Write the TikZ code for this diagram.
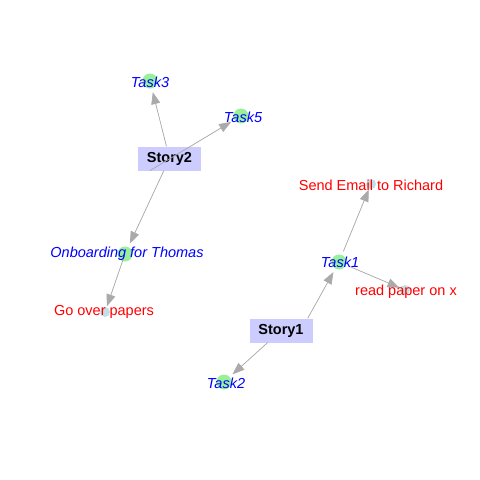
\documentclass[tikz,border=0pt]{standalone}
\usepackage{fontspec}
\setmainfont{Liberation Sans}
\usetikzlibrary{arrows.meta,positioning}

\definecolor{storyfill}{RGB}{204,204,255}
\definecolor{taskfill}{RGB}{152,240,152}
\definecolor{subfill}{RGB}{190,226,232}
\definecolor{edgegray}{RGB}{170,170,170}

\begin{document}
\begin{tikzpicture}[
  x=1pt, y=-1pt,
  font=\fontsize{14.5}{17}\selectfont,
  story/.style={rectangle, fill=storyfill, minimum width=63pt, minimum height=24pt, inner sep=0pt, font=\fontsize{14.5}{17}\selectfont\bfseries},
  task/.style={circle, fill=taskfill, minimum size=15pt, inner sep=0pt, outer sep=4pt},
  sub/.style={circle, fill=subfill, minimum size=10pt, inner sep=0pt, outer sep=1pt},
  tasklbl/.style={text=blue, inner sep=0pt, font=\fontsize{14.5}{17}\selectfont\itshape},
  sublbl/.style={text=red, inner sep=0pt},
  edge/.style={-{Triangle[length=12pt,width=9pt]}, draw=edgegray, fill=edgegray, line width=0.7pt}
]
\useasboundingbox (0,0) rectangle (480,480);

% vertices
\node[story] (story2) at (169.5,158.5) {Story2};
\node[story] (story1) at (281,330.5) {Story1};
\node[task] (task3) at (150,81) {};
\node[task] (task5) at (241,116) {};
\node[task] (onb) at (125,254) {};
\node[task] (task1) at (339,262) {};
\node[task] (task2) at (224,382) {};
\node[sub] (gop) at (105,312) {};
\node[sub] (email) at (371,184) {};
\node[sub] (readx) at (405,290) {};

% edges
\draw[edge] (story2) -- (task3);
\draw[edge] ([xshift=12pt]story2.south west) -- (task5);
\draw[edge] (story2) -- (onb);
\draw[edge] (onb.center) -- (gop);
\draw[edge] ([xshift=-5pt]story1.north east) -- (task1);
\draw[edge] (story1) -- (task2);
\draw[edge] (task1) -- (email);
\draw[edge] (task1) -- (readx);

% labels
\node[tasklbl] (task3l) at (150,82) {Task3};
\node[tasklbl] (task5l) at (243,117) {Task5};
\node[tasklbl] (onbl) at (127,253.5) {Onboarding for Thomas};
\node[tasklbl] (task1l) at (340,262) {Task1};
\node[tasklbl] (task2l) at (226,383) {Task2};
\node[sublbl] (gopl) at (104,311.5) {Go over papers};
\node[sublbl] (emaill) at (371,185) {Send Email to Richard};
\node[sublbl] (readxl) at (406,291.5) {read paper on x};
\end{tikzpicture}
\end{document}
